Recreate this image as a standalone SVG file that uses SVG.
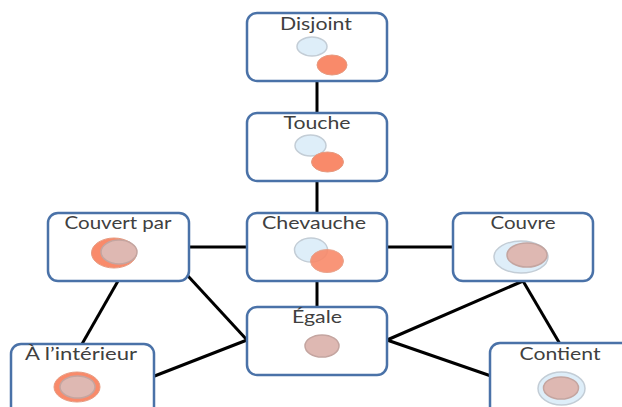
<svg xmlns="http://www.w3.org/2000/svg" width="622" height="407" viewBox="0 0 622 407">
<style>
.box{fill:#ffffff;stroke:#4a72a8;stroke-width:2.5}
.lbl{font-family:Lato,"Open Sans","Liberation Sans",sans-serif;font-size:17px;fill:#404040;text-anchor:middle}
.con{stroke:#000;stroke-width:3;fill:none}
.blue{fill:#deeef9;stroke:#c3cdd6;stroke-width:1.5}
.org{fill:#f98a6a;stroke:#e69a80;stroke-width:1}
.pink{fill:#deb8b2;stroke:#c4a5a0;stroke-width:1.5}
</style>
<rect width="622" height="407" fill="#ffffff"/>
<g id="connectors">
<line class="con" x1="317" y1="81" x2="317" y2="113"/>
<line class="con" x1="317" y1="181" x2="317" y2="213"/>
<line class="con" x1="317" y1="281" x2="317" y2="307"/>
<line class="con" x1="189" y1="247" x2="247" y2="247"/>
<line class="con" x1="387" y1="247" x2="453" y2="247"/>
<line class="con" x1="118" y1="281" x2="82" y2="344"/>
<line class="con" x1="188" y1="276" x2="247" y2="340"/>
<line class="con" x1="152" y1="377" x2="247" y2="340"/>
<line class="con" x1="523" y1="281" x2="387" y2="340"/>
<line class="con" x1="523" y1="281" x2="560" y2="344"/>
<line class="con" x1="387" y1="340" x2="491" y2="376"/>
</g>
<g id="disjoint">
<rect class="box" x="247" y="13" width="140" height="68" rx="10"/>
<text class="lbl" x="316" y="30" textLength="72" lengthAdjust="spacingAndGlyphs">Disjoint</text>
<ellipse class="blue" cx="312" cy="46.5" rx="15" ry="9.5"/>
<ellipse class="org" cx="332" cy="65" rx="15" ry="10"/>
</g>
<g id="touche">
<rect class="box" x="247" y="113" width="140" height="68" rx="10"/>
<text class="lbl" x="317" y="129" textLength="67" lengthAdjust="spacingAndGlyphs">Touche</text>
<ellipse class="blue" cx="310.5" cy="145.5" rx="15.5" ry="10.5"/>
<ellipse class="org" cx="327.5" cy="162" rx="16" ry="10"/>
</g>
<g id="chevauche">
<rect class="box" x="247" y="213" width="140" height="68" rx="10"/>
<text class="lbl" x="314" y="229" textLength="104" lengthAdjust="spacingAndGlyphs">Chevauche</text>
<ellipse class="blue" cx="311" cy="250" rx="16.5" ry="12"/>
<ellipse class="org" cx="327" cy="261" rx="16.5" ry="11.5" opacity="0.9"/>
</g>
<g id="egale">
<rect class="box" x="247" y="307" width="140" height="68" rx="10"/>
<text class="lbl" x="317" y="323" textLength="50" lengthAdjust="spacingAndGlyphs">Égale</text>
<ellipse class="pink" cx="322" cy="346" rx="17" ry="11"/>
</g>
<g id="couvert-par">
<rect class="box" x="48" y="213" width="141" height="68" rx="10"/>
<text class="lbl" x="118" y="229" textLength="107" lengthAdjust="spacingAndGlyphs">Couvert par</text>
<ellipse class="org" cx="114" cy="253" rx="22.5" ry="15"/>
<ellipse class="pink" cx="119" cy="252" rx="18" ry="12"/>
</g>
<g id="couvre">
<rect class="box" x="453" y="213" width="140" height="68" rx="10"/>
<text class="lbl" x="523" y="229" textLength="65" lengthAdjust="spacingAndGlyphs">Couvre</text>
<ellipse class="blue" cx="521" cy="257" rx="27" ry="16"/>
<ellipse class="pink" cx="527" cy="255" rx="20" ry="12"/>
</g>
<g id="a-l-interieur">
<rect class="box" x="11" y="344" width="143" height="80" rx="10"/>
<text class="lbl" x="81" y="360" textLength="112" lengthAdjust="spacingAndGlyphs">À l’intérieur</text>
<ellipse class="org" cx="77" cy="387" rx="23" ry="15"/>
<ellipse class="pink" cx="77.5" cy="387" rx="17.5" ry="11"/>
</g>
<g id="contient">
<rect class="box" x="490" y="343" width="145" height="80" rx="10"/>
<text class="lbl" x="560" y="360" textLength="81" lengthAdjust="spacingAndGlyphs">Contient</text>
<ellipse class="blue" cx="561.5" cy="388.5" rx="23.5" ry="16.5"/>
<ellipse class="pink" cx="561" cy="388" rx="17.5" ry="11"/>
</g>
</svg>
